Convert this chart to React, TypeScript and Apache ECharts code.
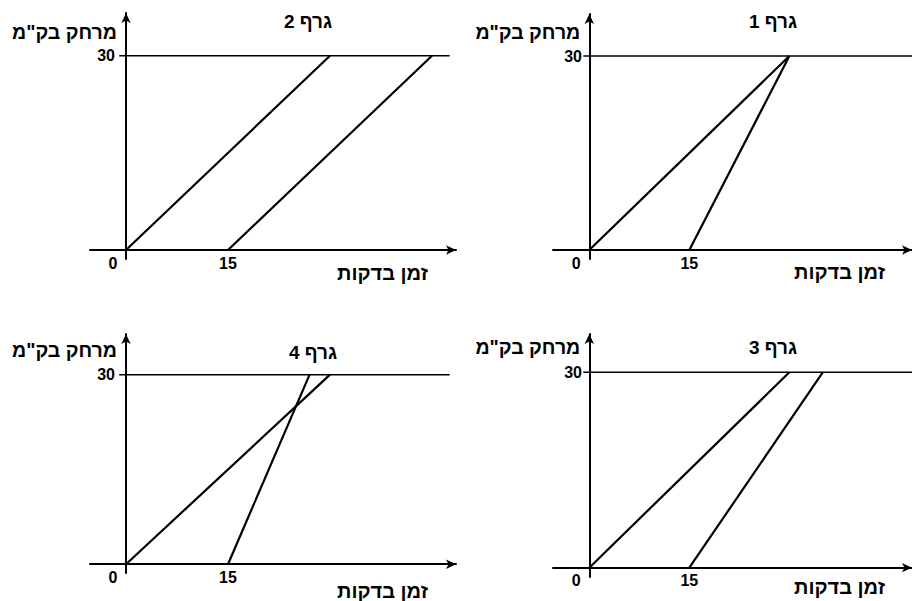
import React, { useEffect, useRef } from "react";
import * as echarts from "echarts";

// ---- data ----
const graphTitles = ["גרף 2", "גרף 1", "גרף 4", "גרף 3"];
const xAxisName = "זמן בדקות";
const yAxisName = 'מרחק בק"מ';
const xTickValues = [0, 15];
const yTickValues = [30];
const levelDistance = 30;

// each line: [time (minutes), distance (km)]
const graph2LineA = [[0, 0], [30, 30]];
const graph2LineB = [[15, 0], [45, 30]];
const graph1LineA = [[0, 0], [30, 30]];
const graph1LineB = [[15, 0], [30, 30]];
const graph4LineA = [[0, 0], [30, 30]];
const graph4LineB = [[15, 0], [27, 30]];
const graph3LineA = [[0, 0], [30, 30]];
const graph3LineB = [[15, 0], [35, 30]];
const levelLineStarts = [-1, -0.9, -1, -0.9];
const levelLineEnds = [47.6, 49.5, 47.6, 49.5];

const graphLines = [
  [graph2LineA, graph2LineB],
  [graph1LineA, graph1LineB],
  [graph4LineA, graph4LineB],
  [graph3LineA, graph3LineB],
];

// ---- layout (pixels) ----
const FONT = '"Liberation Sans", Arial, "DejaVu Sans", sans-serif';
const PX_PER_MIN = 6.8;
const panels = [
  { ox: 126, oy: 250, y30: 55.7, left: 90, right: 456, top: 13, bottom: 259, tx: 308, ty: 12, xnRight: 428, xnDy: 13, ynY: 32, xlm: -4, ylm: -25 },
  { ox: 590, oy: 250, y30: 56, left: 553, right: 919, top: 14, bottom: 259, tx: 773, ty: 12, xnRight: 892, xnDy: 12, ynY: 32, xlm: -4, ylm: -29 },
  { ox: 126, oy: 570, y30: 375.7, left: 90, right: 456, top: 334, bottom: 579, tx: 313, ty: 343, xnRight: 428, xnDy: 17, ynY: 350, xlm: -4, ylm: -25 },
  { ox: 590, oy: 567.7, y30: 372.3, left: 553, right: 919, top: 334, bottom: 577, tx: 773, ty: 338, xnRight: 892, xnDy: 9, ynY: 347, xlm: -5, ylm: -29 },
];

function buildOption() {
  const grid: any[] = [];
  const xAxis: any[] = [];
  const yAxis: any[] = [];
  const title: any[] = [];
  const series: any[] = [];
  const textBase = { color: "#000", fontWeight: "bold", fontFamily: FONT };

  panels.forEach((p, i) => {
    const yPx = (p.oy - p.y30) / levelDistance;
    grid.push({ left: p.left, top: p.top, width: p.right - p.left, height: p.bottom - p.top, containLabel: false });
    xAxis.push({
      type: "value",
      gridIndex: i,
      min: (p.left - p.ox) / PX_PER_MIN,
      max: (p.right - p.ox) / PX_PER_MIN,
      splitLine: { show: false },
      axisTick: { show: false },
      axisLine: {
        show: true,
        onZero: true,
        symbol: ["none", "arrow"],
        symbolSize: [7, 10],
        lineStyle: { color: "#000", width: 2 },
      },
      axisLabel: {
        customValues: xTickValues,
        margin: p.xlm,
        fontSize: 16,
        ...textBase,
        formatter: (v: number) => (v === 0 ? "{z|0}" : String(v)),
        rich: { z: { fontSize: 16, ...textBase, padding: [0, 26, 0, 0] } },
      },
      name: xAxisName,
      nameLocation: "end",
      nameGap: -(p.right - p.xnRight),
      nameTextStyle: { ...textBase, fontSize: 20, align: "right", verticalAlign: "top", padding: [p.xnDy, 0, 0, 0] },
    });
    yAxis.push({
      type: "value",
      gridIndex: i,
      min: (p.oy - p.bottom) / yPx,
      max: (p.oy - p.top) / yPx,
      splitLine: { show: false },
      axisTick: { show: false },
      axisLine: {
        show: true,
        onZero: true,
        symbol: ["none", "arrow"],
        symbolSize: [7, 10],
        lineStyle: { color: "#000", width: 2 },
      },
      axisLabel: { customValues: yTickValues, margin: p.ylm, fontSize: 16, ...textBase },
      name: yAxisName,
      nameLocation: "end",
      nameGap: -(p.ynY - p.top),
      nameTextStyle: { ...textBase, fontSize: 19.5, align: "right", verticalAlign: "middle", padding: [0, 9, 0, 0] },
    });
    title.push({
      text: graphTitles[i],
      left: p.tx,
      top: p.ty,
      textAlign: "center",
      padding: 0,
      textStyle: { ...textBase, fontSize: 19 },
    });
    series.push({
      type: "line",
      xAxisIndex: i,
      yAxisIndex: i,
      data: [[levelLineStarts[i], levelDistance], [levelLineEnds[i], levelDistance]],
      showSymbol: false,
      silent: true,
      lineStyle: { color: "#000", width: 1.6 },
    });
    graphLines[i].forEach((ln) => {
      series.push({
        type: "line",
        xAxisIndex: i,
        yAxisIndex: i,
        data: ln,
        showSymbol: false,
        silent: true,
        lineStyle: { color: "#000", width: 2.2 },
      });
    });
  });

  return {
    animation: false,
    backgroundColor: "#fff",
    title,
    grid,
    xAxis,
    yAxis,
    series,
  };
}

export default function App() {
  const ref = useRef<HTMLDivElement>(null);
  useEffect(() => {
    if (!ref.current) return;
    const chart = echarts.init(ref.current, undefined, { renderer: "svg" });
    chart.setOption(buildOption() as any);
    return () => chart.dispose();
  }, []);
  return (
    <div
      ref={ref}
      style={{ position: "fixed", left: 0, top: 0, width: 912, height: 601, background: "#fff" }}
    />
  );
}
